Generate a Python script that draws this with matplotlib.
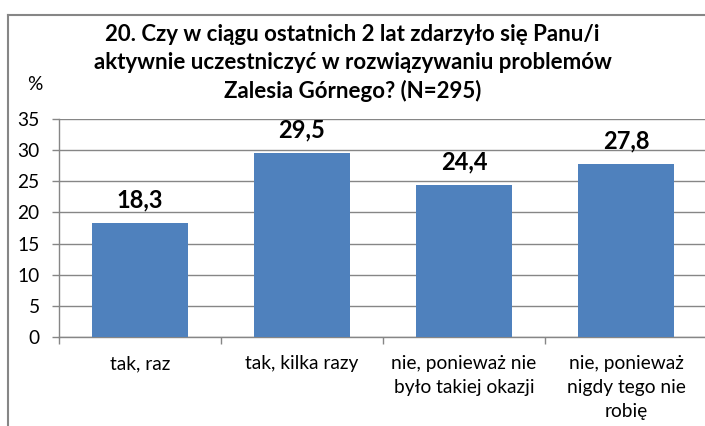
import matplotlib
matplotlib.use('Agg')
import matplotlib.pyplot as plt
from matplotlib.lines import Line2D
import numpy as np

categories = ['tak, raz', 'tak, kilka razy', 'nie, ponieważ nie\nbyło takiej okazji',
              'nie, ponieważ\nnigdy tego nie\nrobię']
values = [18.3, 29.5, 24.4, 27.8]
value_labels = ['18,3', '29,5', '24,4', '27,8']
y_ticks = [0, 5, 10, 15, 20, 25, 30, 35]
title = ('20. Czy w ciągu ostatnich 2 lat zdarzyło się Panu/i\n'
         'aktywnie uczestniczyć w rozwiązywaniu problemów\n'
         'Zalesia Górnego? (N=295)')

plt.rcParams['font.family'] = ['Lato', 'DejaVu Sans']

bar_color = '#4F81BD'
line_color = '#868686'

W, H = 705, 426
fig = plt.figure(figsize=(W / 100, H / 100), dpi=100)

# chart frame (only top and left edges are visible)
fig.add_artist(Line2D([8 / W, 8 / W], [-0.1, 1 - 15 / H], color=line_color, lw=1.5))
fig.add_artist(Line2D([8 / W, 1.1], [1 - 15 / H, 1 - 15 / H], color=line_color, lw=1.5))

ax = fig.add_axes([59 / W, 89 / H, 648 / W, 218 / H])
x = np.arange(len(categories))
ax.bar(x, values, width=0.587, color=bar_color, zorder=3)

ax.set_xlim(-0.5, len(categories) - 0.5)
ax.set_ylim(0, 35)
ax.set_yticks(y_ticks)
ax.set_yticklabels([str(t) for t in y_ticks], fontsize=13.8)
ax.tick_params(axis='y', length=5, width=1, color=line_color, pad=9)
ax.yaxis.grid(True, color=line_color, lw=1, zorder=0)

ax.set_xticks(x)
ax.set_xticklabels(categories, fontsize=13.8, linespacing=1.49)
ax.tick_params(axis='x', which='major', length=0, pad=13)
ax.set_xticks(np.arange(len(categories) + 1) - 0.5, minor=True)
ax.tick_params(axis='x', which='minor', length=5, width=1, color=line_color)

for side in ['top', 'right']:
    ax.spines[side].set_visible(False)
for side in ['left', 'bottom']:
    ax.spines[side].set_color(line_color)
    ax.spines[side].set_linewidth(1)

for xi, v, lab in zip(x, values, value_labels):
    ax.annotate(lab, (xi, v), xytext=(0, 16.5), textcoords='offset points',
                ha='center', va='center', fontsize=17, fontweight='bold')

fig.text(0.5, 1 - 63 / H, title, ha='center', va='center', fontsize=16,
         fontweight='bold', linespacing=1.4, multialignment='center')
fig.text(35 / W, 1 - 85 / H, '%', ha='center', va='center', fontsize=13.8)

fig.savefig('out.png', dpi=100)
